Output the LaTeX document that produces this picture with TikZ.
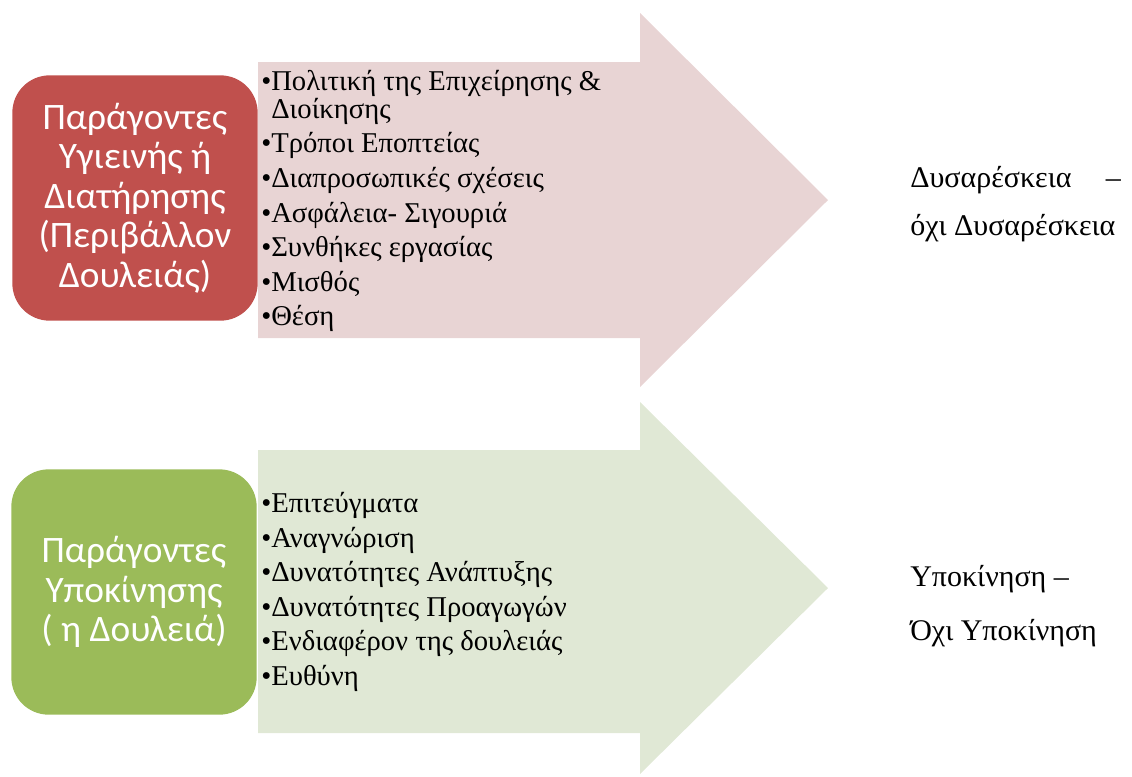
\documentclass[tikz,border=0pt]{standalone}
\usepackage{fontspec}
\setmainfont{Liberation Serif}
\newfontfamily\boxfont{Carlito}
\definecolor{hygienered}{HTML}{C0504D}
\definecolor{hygienepink}{HTML}{E8D4D4}
\definecolor{motivgreen}{HTML}{9BBB59}
\definecolor{motivpale}{HTML}{E0E8D5}
\tikzset{
	factorbox/.style={rounded corners=28pt, minimum width=184pt, minimum height=184pt,
		align=center, text=white, inner sep=0pt,
		font=\boxfont\fontsize{28}{29.6}\selectfont},
	factorlist/.style={anchor=west, align=left, inner sep=0pt,
		font=\fontsize{21.5}{25.9}\selectfont},
	outcome/.style={anchor=west, align=left, inner sep=0pt}
}
\begin{document}
\begin{tikzpicture}[x=0.75pt, y=-0.75pt]
	\useasboundingbox (0, 0) rectangle (1132, 776);
		\fill[hygienepink] (258, 62) -- (640, 62) -- (640, 13) -- (828, 200) -- (640, 387) -- (640, 338) -- (258, 338) -- cycle;
		\fill[motivpale] (258, 450) -- (640, 450) -- (640, 402) -- (828, 588) -- (640, 774) -- (640, 733) -- (258, 733) -- cycle;
		\node[factorbox, fill=hygienered] (hygiene) at (135, 198) {Παράγοντες\\Υγιεινής ή\\Διατήρησης\\(Περιβάλλον\\Δουλειάς)};
		\node[factorbox, fill=motivgreen] (motiv) at (134, 592) {Παράγοντες\\Υποκίνησης\\( η Δουλειά)};
		\node[factorlist] (hygienelist) at (261, 201) {•Πολιτική της Επιχείρησης \&\\[-4.9pt]
			\phantom{•}Διοίκησης\\•Τρόποι Εποπτείας\\•Διαπροσωπικές σχέσεις\\•Ασφάλεια- Σιγουριά\\
			•Συνθήκες εργασίας\\•Μισθός\\•Θέση};
		\node[factorlist] (motivlist) at (261, 592) {•Επιτεύγματα\\•Αναγνώριση\\•Δυνατότητες Ανάπτυξης\\
			•Δυνατότητες Προαγωγών\\•Ενδιαφέρον της δουλειάς\\•Ευθύνη};
		\node[outcome, font=\fontsize{22.5}{36}\selectfont] (dissat) at (910, 204) {\makebox[158pt][l]{Δυσαρέσκεια\hfill –}\\όχι Δυσαρέσκεια};
		\node[outcome, font=\fontsize{22.5}{40.5}\selectfont] (motivation) at (910, 606) {Υποκίνηση –\\Όχι Υποκίνηση};
	\end{tikzpicture}
\end{document}
